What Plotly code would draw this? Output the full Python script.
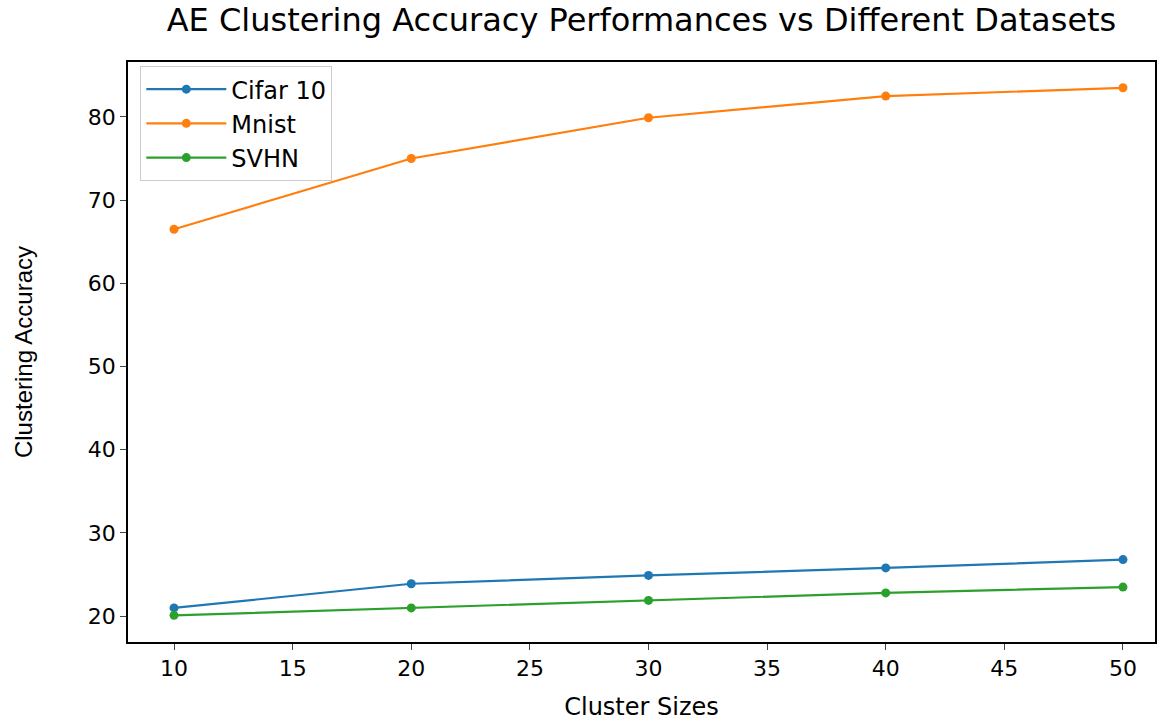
import plotly.graph_objects as go

cluster_sizes = [10, 20, 30, 40, 50]
cifar10 = [21.0, 23.9, 24.9, 25.8, 26.8]
mnist = [66.5, 75.0, 79.9, 82.5, 83.5]
svhn = [20.1, 21.0, 21.9, 22.8, 23.5]

series = [
    ("Cifar 10", cifar10, "#1f77b4"),
    ("Mnist", mnist, "#ff7f0e"),
    ("SVHN", svhn, "#2ca02c"),
]

fig = go.Figure()
for name, vals, color in series:
    fig.add_trace(go.Scatter(
        x=cluster_sizes, y=vals, name=name, mode="lines+markers",
        line=dict(color=color, width=2.2),
        marker=dict(color=color, size=9),
    ))

font = "DejaVu Sans, Verdana, sans-serif"
fig.update_layout(
    width=1167, height=721,
    margin=dict(l=128, r=12, t=62, b=79),
    paper_bgcolor="white", plot_bgcolor="white",
    title=dict(text="AE Clustering Accuracy Performances vs Different Datasets",
               xref="paper", x=0.5, xanchor="center", y=0.972, yanchor="middle",
               font=dict(family=font, size=32, color="black")),
    font=dict(family=font, color="black"),
    showlegend=True,
    legend=dict(x=0.012, y=0.993, xanchor="left", yanchor="top",
                bgcolor="rgba(255,255,255,0.8)", bordercolor="#cccccc", borderwidth=1,
                font=dict(family=font, size=24), itemwidth=80, tracegroupgap=2),
    xaxis=dict(range=[8.06, 51.35], tickvals=[10, 15, 20, 25, 30, 35, 40, 45, 50],
               showgrid=False, zeroline=False, showline=True, linecolor="black",
               linewidth=1.5, mirror=True, ticks="outside", ticklen=6,
               tickfont=dict(family=font, size=22), automargin=False,
               title=dict(text="Cluster Sizes", standoff=32,
                          font=dict(family=font, size=24))),
    yaxis=dict(range=[16.9, 86.6], tickvals=[20, 30, 40, 50, 60, 70, 80],
               showgrid=False, zeroline=False, showline=True, linecolor="black",
               linewidth=1.5, mirror=True, ticks="outside", ticklen=6,
               tickfont=dict(family=font, size=22), automargin=False,
               title=dict(text="Clustering Accuracy", standoff=48,
                          font=dict(family="Liberation Sans Narrow, Liberation Sans, sans-serif", size=24))),
)

fig.write_html("out.html")
